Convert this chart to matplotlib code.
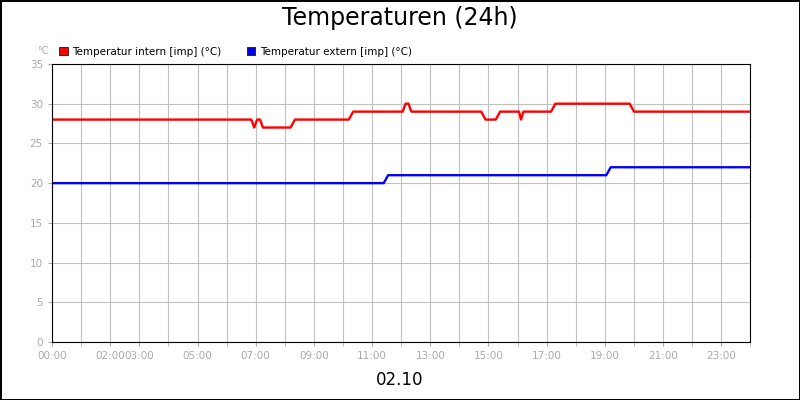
import matplotlib
matplotlib.use("Agg")
import matplotlib.pyplot as plt

# hours since 00:00, temperature in °C
intern_t = [0, 6.85, 6.95, 7.05, 7.15, 7.25, 8.2, 8.35, 10.2, 10.35, 12.05, 12.15, 12.25, 12.35,
            14.75, 14.9, 15.25, 15.4, 16.05, 16.12, 16.2, 17.15, 17.3, 19.85, 20.0, 24]
intern_v = [28, 28, 27, 28, 28, 27, 27, 28, 28, 29, 29, 30, 30, 29,
            29, 28, 28, 29, 29, 28, 29, 29, 30, 30, 29, 29]
extern_t = [0, 11.4, 11.55, 19.05, 19.2, 24]
extern_v = [20, 20, 21, 21, 22, 22]
tick_hours = [0, 2, 3, 5, 7, 9, 11, 13, 15, 17, 19, 21, 23]
tick_labels = ["%02d:00" % h for h in tick_hours]

fig = plt.figure(figsize=(8, 4), dpi=100)
fig.patch.set_edgecolor("black")
fig.patch.set_linewidth(2)
ax = fig.add_axes([0.065, 0.145, 0.873, 0.695])
ax.plot(intern_t, intern_v, color="#ff0000", lw=1.7, label="Temperatur intern [imp] (°C)")
ax.plot(extern_t, extern_v, color="#0000ff", lw=1.7, label="Temperatur extern [imp] (°C)")
ax.set_xlim(0, 24)
ax.set_ylim(0, 35)
ax.set_xticks(range(0, 25), minor=True)
ax.set_xticks(tick_hours)
ax.set_xticklabels(tick_labels, color="#aaaaaa", fontsize=7.5)
ax.set_yticks(range(0, 36, 5))
ax.tick_params(axis="y", colors="#aaaaaa", labelsize=7.5, length=3)
ax.tick_params(axis="x", which="both", colors="#aaaaaa", length=3)
ax.grid(True, which="both", color="#c0c0c0", lw=0.8)
ax.set_axisbelow(True)
fig.text(0.5, 0.955, "Temperaturen (24h)", ha="center", va="center", fontsize=17)
fig.text(0.5, 0.05, "02.10", ha="center", va="center", fontsize=12)
fig.text(0.046, 0.865, "°C", color="#aaaaaa", fontsize=7)
ax.legend(loc="lower left", bbox_to_anchor=(0.0, 1.0), ncol=2, frameon=False, fontsize=7.5,
          handlelength=0.8, handleheight=0.8, borderaxespad=0.3, columnspacing=2.5, handletextpad=0.4,
          handles=[plt.Rectangle((0, 0), 1, 1, fc="#ff0000", ec="black", lw=0.5),
                   plt.Rectangle((0, 0), 1, 1, fc="#0000ff", ec="black", lw=0.5)],
          labels=["Temperatur intern [imp] (°C)", "Temperatur extern [imp] (°C)"])
fig.savefig("out.png")
